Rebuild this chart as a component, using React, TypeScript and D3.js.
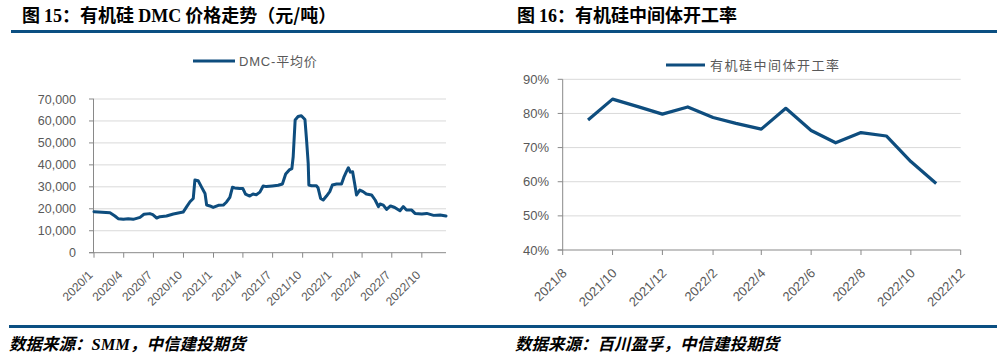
import React from "react";
import * as d3 from "d3";

// ---------- data ----------
const dmcDates: string[] = [
  "2020-01-01","2020-02-19","2020-03-05","2020-03-15","2020-03-31","2020-04-15","2020-04-30","2020-05-21",
  "2020-06-02","2020-06-20","2020-06-29","2020-07-11","2020-07-21","2020-08-10","2020-08-31","2020-09-30",
  "2020-10-11","2020-10-21","2020-10-31","2020-11-05","2020-11-15","2020-11-25","2020-12-06","2020-12-11",
  "2020-12-21","2020-12-31","2021-01-16","2021-01-31","2021-02-10","2021-02-20","2021-02-28","2021-03-07",
  "2021-03-22","2021-04-01","2021-04-09","2021-04-22","2021-05-02","2021-05-12","2021-05-23","2021-06-02",
  "2021-06-12","2021-06-30","2021-07-18","2021-07-31","2021-08-10","2021-08-21","2021-08-29","2021-09-02",
  "2021-09-08","2021-09-17","2021-09-27","2021-10-08","2021-10-13","2021-10-18","2021-10-20","2021-10-28",
  "2021-11-12","2021-11-17","2021-11-25","2021-12-03","2021-12-13","2021-12-23","2021-12-31","2022-01-13",
  "2022-01-28","2022-02-04","2022-02-12","2022-02-18","2022-02-24","2022-03-03","2022-03-10","2022-03-15",
  "2022-03-25","2022-04-04","2022-04-14","2022-04-30","2022-05-11","2022-05-21","2022-05-26","2022-06-05",
  "2022-06-15","2022-06-27","2022-07-10","2022-07-26","2022-08-05","2022-08-15","2022-08-31","2022-09-10",
  "2022-10-01","2022-10-16","2022-11-06","2022-11-26","2022-12-14",
];
const dmcPrices: number[] = [
  18700,18200,16700,15500,15200,15500,15200,16100,
  17500,17800,17300,15800,16400,16700,17600,18500,
  21000,23200,24700,33100,32800,30000,27000,21700,
  21300,20600,21600,21700,23100,25200,29800,29500,
  29200,29200,26700,25800,26700,26400,27600,30400,
  30100,30400,30700,31300,35800,37700,38300,43700,
  60400,62000,62400,60700,51300,40700,30800,30500,
  30500,29600,24700,24000,25800,27800,30800,31300,
  31300,34300,36900,38700,36700,36900,30800,26300,
  28500,27800,26700,26300,24000,21000,22200,21700,
  19700,21300,20600,19100,21000,19400,19400,17900,
  17600,17900,17000,17200,16700,
];
const dmcYTicks: number[] = [0, 10000, 20000, 30000, 40000, 50000, 60000, 70000];

const rateMonths: string[] = [
  "2021-09-01","2021-10-01","2021-11-01","2021-12-01","2022-01-01","2022-02-01","2022-03-01","2022-04-01",
  "2022-05-01","2022-06-01","2022-07-01","2022-08-01","2022-09-01","2022-10-01","2022-11-01",
];
const rateValues: number[] = [78.1, 84.2, 82.0, 79.8, 81.9, 78.8, 77.1, 75.4, 81.5, 75.0, 71.4, 74.4, 73.4, 65.9, 59.5];
const rateYTicks: number[] = [40, 50, 60, 70, 80, 90];

// text segments: [text, isLatin]
const leftTitle: [string, boolean][] = [["图 ", false], ["15", true], ["：有机硅 ", false], ["DMC", true], [" 价格走势（元/吨）", false]];
const rightTitle: [string, boolean][] = [["图 ", false], ["16", true], ["：有机硅中间体开工率", false]];
const leftSource: [string, boolean][] = [["数据来源：", false], ["SMM", true], ["，中信建投期货", false]];
const rightSource: [string, boolean][] = [["数据来源：百川盈孚，中信建投期货", false]];
const leftLegend = "DMC-平均价";
const rightLegend = "有机硅中间体开工率";

// ---------- styles ----------
const BLUE_RULE = "#0B4F82";
const BLUE_LINE = "#0E4D7E";
const GRID = "#D9D9D9";
const AXIS = "#898989";
const TEXT = "#595959";
const SERIF_FONT = "'Liberation Serif', serif";
const LABEL_FONT = "'Liberation Sans', 'Noto Sans CJK SC', sans-serif";
const CJK_FONT = "'Noto Sans CJK SC', sans-serif";

const parse = (s: string) => {
  const [y, m, d] = s.split("-").map(Number);
  return new Date(y, m - 1, d);
};

function Segments({ segs }: { segs: [string, boolean][] }) {
  return (
    <>
      {segs.map(([t, latin], i) => (
        <tspan key={i} fontFamily={latin ? SERIF_FONT : CJK_FONT}>
          {t}
        </tspan>
      ))}
    </>
  );
}

function LeftChart() {
  const x = d3.scaleTime().domain([new Date(2020, 0, 1), new Date(2022, 11, 14)]).range([94, 446]);
  const y = d3.scaleLinear().domain([0, 70000]).range([252.7, 99]);
  const pts = dmcDates.map((d, i) => [parse(d), dmcPrices[i]] as [Date, number]);
  const line = d3.line<[Date, number]>().x((d) => x(d[0])).y((d) => y(d[1]));
  const xTicks = d3.timeMonth.range(new Date(2020, 0, 1), new Date(2022, 10, 1), 3);
  const fmtY = d3.format(",");
  const fmtX = d3.timeFormat("%Y/%-m");
  const [x0, x1] = x.range();
  return (
    <g>
      {dmcYTicks.filter((t) => t > 0).map((t) => (
        <line key={"g" + t} x1={x0} x2={x1} y1={y(t)} y2={y(t)} stroke={GRID} strokeWidth={1} />
      ))}
      <line x1={x0 - 0.5} x2={x0 - 0.5} y1={y(70000)} y2={y(0)} stroke={AXIS} strokeWidth={1} />
      <line x1={x0 - 5} x2={x1} y1={y(0)} y2={y(0)} stroke={AXIS} strokeWidth={1} />
      {dmcYTicks.map((t) => (
        <g key={"y" + t}>
          <line x1={x0 - 5} x2={x0} y1={y(t)} y2={y(t)} stroke={AXIS} strokeWidth={1} />
          <text x={76} y={y(t) + 4.5} textAnchor="end" fontSize={12.5} fill={TEXT} fontFamily={LABEL_FONT}>
            {fmtY(t)}
          </text>
        </g>
      ))}
      {xTicks.map((t) => (
        <g key={"x" + t.getTime()}>
          <line x1={x(t)} x2={x(t)} y1={y(0)} y2={y(0) + 5} stroke={AXIS} strokeWidth={1} />
          <text
            transform={`translate(${x(t) - 0.5},${y(0) + 23}) rotate(-45)`}
            textAnchor="end"
            fontSize={12}
            fill={TEXT}
            fontFamily={LABEL_FONT}
          >
            {fmtX(t)}
          </text>
        </g>
      ))}
      <path d={line(pts) || ""} fill="none" stroke={BLUE_LINE} strokeWidth={3} strokeLinejoin="round" strokeLinecap="round" />
      <line x1={193} x2={235} y1={61} y2={61} stroke={BLUE_LINE} strokeWidth={3} />
      <text x={239} y={65.5} fontSize={13} fill={TEXT} fontFamily={LABEL_FONT} letterSpacing={0.8}>
        {leftLegend}
      </text>
    </g>
  );
}

function RightChart() {
  const x = d3.scaleTime().domain([new Date(2021, 7, 1), new Date(2022, 11, 1)]).range([562.7, 960.7]);
  const y = d3.scaleLinear().domain([40, 90]).range([250, 79.3]);
  const pts = rateMonths.map((d, i) => [parse(d), rateValues[i]] as [Date, number]);
  const line = d3.line<[Date, number]>().x((d) => x(d[0])).y((d) => y(d[1]));
  const xTicks = d3.timeMonth.range(new Date(2021, 7, 1), new Date(2022, 11, 2), 2);
  const fmtX = d3.timeFormat("%Y/%-m");
  const [x0, x1] = x.range();
  return (
    <g>
      {rateYTicks.filter((t) => t > 40).map((t) => (
        <line key={"g" + t} x1={x0} x2={x1} y1={y(t)} y2={y(t)} stroke={GRID} strokeWidth={1} />
      ))}
      <line x1={x0} x2={x0} y1={y(90)} y2={y(40)} stroke={AXIS} strokeWidth={1} />
      <line x1={x0 - 5} x2={x1} y1={y(40)} y2={y(40)} stroke={AXIS} strokeWidth={1} />
      {rateYTicks.map((t) => (
        <g key={"y" + t}>
          <line x1={x0 - 5} x2={x0} y1={y(t)} y2={y(t)} stroke={AXIS} strokeWidth={1} />
          <text x={549} y={y(t) + 4.5} textAnchor="end" fontSize={13} fill={TEXT} fontFamily={LABEL_FONT}>
            {t + "%"}
          </text>
        </g>
      ))}
      {xTicks.map((t) => (
        <g key={"x" + t.getTime()}>
          <line x1={x(t)} x2={x(t)} y1={y(40)} y2={y(40)} stroke={AXIS} strokeWidth={1} />
          <line x1={x(t)} x2={x(t)} y1={y(40)} y2={y(40) + 5} stroke={AXIS} strokeWidth={1} />
          <text
            transform={`translate(${x(t) + 5},${y(40) + 24}) rotate(-45)`}
            textAnchor="end"
            fontSize={13}
            fill={TEXT}
            fontFamily={LABEL_FONT}
          >
            {fmtX(t)}
          </text>
        </g>
      ))}
      <path d={line(pts) || ""} fill="none" stroke={BLUE_LINE} strokeWidth={3.2} strokeLinejoin="round" />
      <line x1={666} x2={705} y1={65} y2={65} stroke={BLUE_LINE} strokeWidth={3} />
      <text x={710} y={70} fontSize={13} fill={TEXT} fontFamily={CJK_FONT} letterSpacing={1.5}>
        {rightLegend}
      </text>
    </g>
  );
}

export default function App() {
  return (
    <svg
      width={1005}
      height={361}
      viewBox="0 0 1005 361"
      style={{ position: "absolute", left: 0, top: 0, background: "#fff" }}
    >
      <rect x={0} y={0} width={1005} height={361} fill="#fff" />
      <text x={22} y={21.5} fontSize={18} fontWeight="bold" fill="#000">
        <Segments segs={leftTitle} />
      </text>
      <text x={517} y={21.5} fontSize={18} fontWeight="bold" fill="#000">
        <Segments segs={rightTitle} />
      </text>
      <line x1={11} x2={997} y1={31.5} y2={31.5} stroke={BLUE_RULE} strokeWidth={3} />
      <line x1={9} x2={997} y1={326.5} y2={326.5} stroke={BLUE_RULE} strokeWidth={3} />
      <LeftChart />
      <RightChart />
      <text x={9} y={350} fontSize={16.5} fontWeight="bold" fontStyle="italic" fill="#000">
        <Segments segs={leftSource} />
      </text>
      <text x={515} y={350} fontSize={16.5} fontWeight="bold" fontStyle="italic" fill="#000">
        <Segments segs={rightSource} />
      </text>
    </svg>
  );
}
